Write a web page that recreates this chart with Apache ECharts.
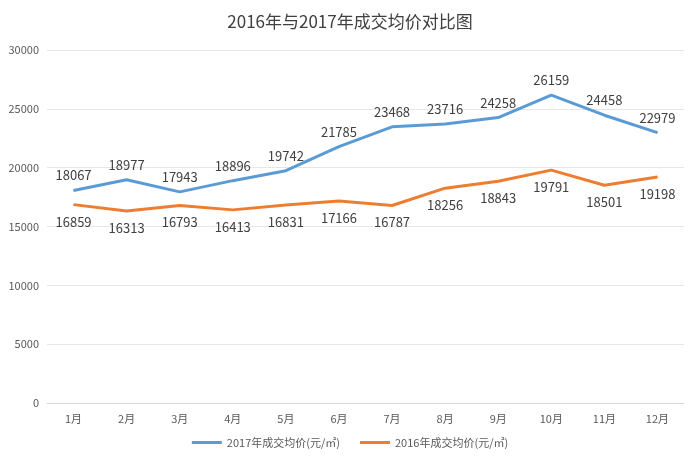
<!DOCTYPE html>
<html>
<head>
<meta charset="utf-8">
<script src="https://cdn.jsdelivr.net/npm/echarts@6/dist/echarts.min.js"></script>
<style>
  html, body { margin: 0; padding: 0; background: #fff; }
  #chart { width: 700px; height: 465px; }
</style>
</head>
<body>
<div id="chart"></div>
<script>
// datos del gráfico
const meses = ['1月', '2月', '3月', '4月', '5月', '6月', '7月', '8月', '9月', '10月', '11月', '12月'];
const precio2017 = [18067, 18977, 17943, 18896, 19742, 21785, 23468, 23716, 24258, 26159, 24458, 22979];
const precio2016 = [16859, 16313, 16793, 16413, 16831, 17166, 16787, 18256, 18843, 19791, 18501, 19198];

const chart = echarts.init(document.getElementById('chart'), null, { renderer: 'canvas' });

chart.setOption({
  animation: false,
  textStyle: { fontFamily: 'Noto Sans CJK SC, sans-serif' },
  title: {
    text: '2016年与2017年成交均价对比图',
    left: 'center',
    top: 8,
    textStyle: { fontSize: 17, fontWeight: 'normal', color: '#404040' }
  },
  legend: {
    bottom: 12,
    itemWidth: 30,
    itemHeight: 3,
    itemGap: 20,
    icon: 'rect',
    textStyle: { fontSize: 11, color: '#595959' },
    data: ['2017年成交均价(元/㎡)', '2016年成交均价(元/㎡)']
  },
  grid: { left: 47, right: 16, top: 50, bottom: 62 },
  xAxis: {
    type: 'category',
    data: meses,
    axisLine: { lineStyle: { color: '#d9d9d9' } },
    axisTick: { show: false },
    axisLabel: { color: '#595959', fontSize: 11, margin: 10 }
  },
  yAxis: {
    type: 'value',
    min: 0,
    max: 30000,
    interval: 5000,
    axisLine: { show: false },
    axisTick: { show: false },
    axisLabel: { color: '#595959', fontSize: 11, formatter: v => String(v) },
    splitLine: { lineStyle: { color: '#e6e6e6' } }
  },
  series: [
    {
      name: '2017年成交均价(元/㎡)',
      type: 'line',
      data: precio2017,
      symbol: 'circle',
      symbolSize: 1,
      lineStyle: { color: '#5b9bd5', width: 3 },
      itemStyle: { color: '#5b9bd5' },
      label: { show: true, position: 'top', distance: 8, fontSize: 13, color: '#404040' }
    },
    {
      name: '2016年成交均价(元/㎡)',
      type: 'line',
      data: precio2016,
      symbol: 'circle',
      symbolSize: 1,
      lineStyle: { color: '#ed7d31', width: 3 },
      itemStyle: { color: '#ed7d31' },
      label: { show: true, position: 'bottom', distance: 10, fontSize: 13, color: '#404040' }
    }
  ]
});
</script>
</body>
</html>
